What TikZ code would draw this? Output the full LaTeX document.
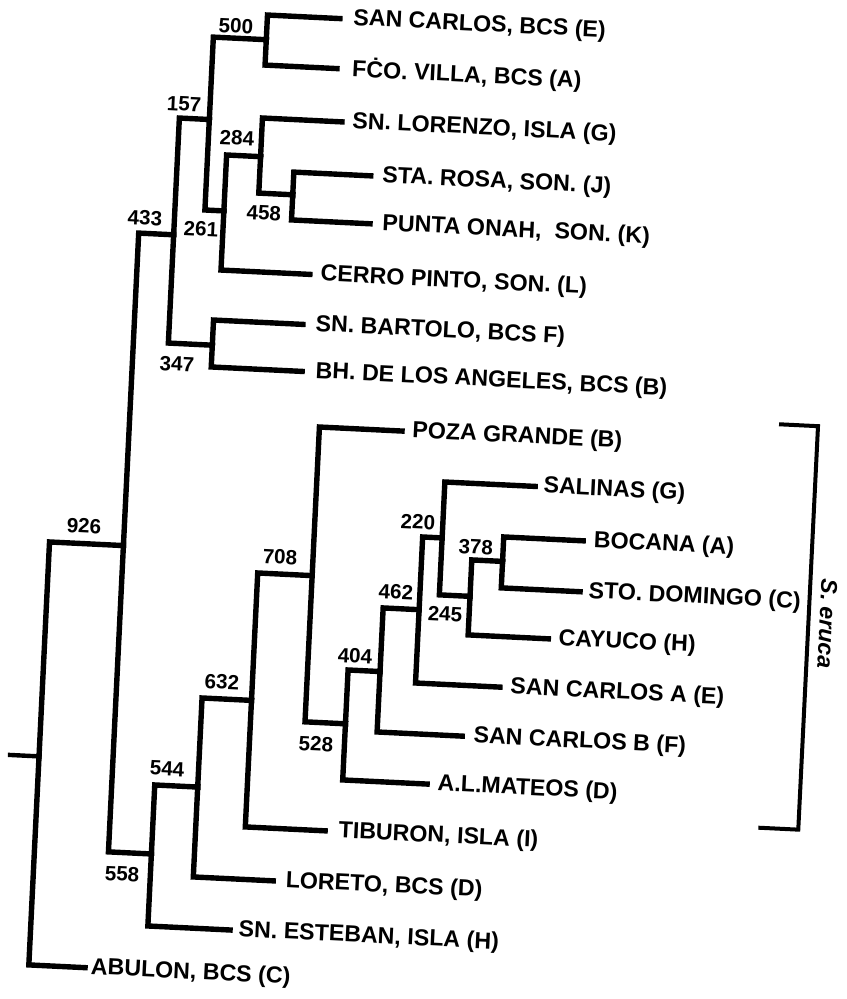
\documentclass[tikz,border=0pt]{standalone}
\usepackage{fontspec}
\setmainfont{Liberation Sans}
\begin{document}
\begin{tikzpicture}[x=0.5pt,y=-0.5pt,
  br/.style={line width=2.7pt, line cap=rect, line join=miter},
  leaf/.style={anchor=west, inner sep=0pt, font=\bfseries\fontsize{11.6}{13}\selectfont},
  num/.style={inner sep=0pt, font=\bfseries\fontsize{10.3}{12}\selectfont}]
\useasboundingbox (0,0) rectangle (846,999);
\fill[white] (0,0) rectangle (846,999);
\begin{scope}[rotate around={-2.8:(423,500)}, transform shape]
% internal nodes (vertical x, horizontal y)
\coordinate (stub) at (23,774.9);
\coordinate (root) at (52,774.9);
\coordinate (n926) at (126,560.2);
\coordinate (n433) at (161,247.3);
\coordinate (n157) at (191,130.4);
\coordinate (n500) at (244,47.9);
\coordinate (n261) at (210,221);
\coordinate (n284) at (244,165);
\coordinate (n458) at (278,201.5);
\coordinate (n347) at (205,355.7);
\coordinate (n558) at (169,866.9);
\coordinate (n544) at (212,797.8);
\coordinate (n632) at (261.5,708.6);
\coordinate (n708) at (316,581);
\coordinate (n528) at (356.5,727.4);
\coordinate (n404) at (388.5,673.5);
\coordinate (n462) at (424.5,609.8);
\coordinate (n220) at (444,537);
\coordinate (n245) at (474.7,594);
\coordinate (n378) at (505.5,557.5);
% leaf line ends
\coordinate (e1) at (316.5,23.2);
\coordinate (e2) at (316,73.3);
\coordinate (e3) at (323.6,126.3);
\coordinate (e4) at (355,178.8);
\coordinate (e5) at (356.6,226.7);
\coordinate (e6) at (299,280.2);
\coordinate (e7) at (294.5,330.5);
\coordinate (e8) at (296,377.5);
\coordinate (e9) at (398.7,432.2);
\coordinate (e10) at (534.4,481.0);
\coordinate (e11) at (585,533.0);
\coordinate (e12) at (584.4,584.0);
\coordinate (e13) at (555,632.6);
\coordinate (e14) at (509,683.2);
\coordinate (e15) at (473.7,734.0);
\coordinate (e16) at (441,783.6);
\coordinate (e17) at (341.4,835.3);
\coordinate (e18) at (292,887.8);
\coordinate (e19) at (251.3,939.0);
\coordinate (e20) at (108.3,983.7);
% leaf labels
\node[leaf] (l1) at (329.6,23.2) {SAN CARLOS, BCS (E)};
\node[leaf] (l2) at (331,73.3) {FĊO. VILLA, BCS (A)};
\node[leaf] (l3) at (333.7,126.3) {SN. LORENZO, ISLA (G)};
\node[leaf] (l4) at (366.3,178.8) {STA. ROSA, SON. (J)};
\node[leaf] (l5) at (368.7,226.7) {PUNTA ONAH,\ \ SON. (K)};
\node[leaf] (l6) at (309.5,280.2) {CERRO PINTO, SON. (L)};
\node[leaf] (l7) at (306.8,330.5) {SN. BARTOLO, BCS F)};
\node[leaf] (l8) at (309.2,377.5) {BH. DE LOS ANGELES, BCS (B)};
\node[leaf] (l9) at (408.7,432.2) {POZA GRANDE (B)};
\node[leaf] (l10) at (542.4,481.0) {SALINAS (G)};
\node[leaf] (l11) at (595.3,533.0) {BOCANA (A)};
\node[leaf] (l12) at (592.6,584.0) {STO. DOMINGO (C)};
\node[leaf] (l13) at (564.9,632.6) {CAYUCO (H)};
\node[leaf] (l14) at (519.2,683.2) {SAN CARLOS A (E)};
\node[leaf] (l15) at (484.7,734.0) {SAN CARLOS B (F)};
\node[leaf] (l16) at (451.2,783.6) {A.L.MATEOS (D)};
\node[leaf] (l17) at (354.6,835.3) {TIBURON, ISLA (I)};
\node[leaf] (l18) at (304.2,887.8) {LORETO, BCS (D)};
\node[leaf] (l19) at (259.6,939.0) {SN. ESTEBAN, ISLA (H)};
\node[leaf] (l20) at (113.7,983.7) {ABULON, BCS (C)};
% branches
\draw[br, line width=2.2pt] (stub) -- (root);
\draw[br] (root) |- (n926);
\draw[br] (root) |- (e20);
\draw[br] (n926) |- (n433);
\draw[br] (n926) |- (n558);
\draw[br] (n433) |- (n157);
\draw[br] (n433) |- (n347);
\draw[br] (n157) |- (n500);
\draw[br] (n157) |- (n261);
\draw[br] (n500) |- (e1);
\draw[br] (n500) |- (e2);
\draw[br] (n261) |- (n284);
\draw[br] (n261) |- (e6);
\draw[br] (n284) |- (e3);
\draw[br] (n284) |- (n458);
\draw[br] (n458) |- (e4);
\draw[br] (n458) |- (e5);
\draw[br] (n347) |- (e7);
\draw[br] (n347) |- (e8);
\draw[br] (n558) |- (n544);
\draw[br] (n558) |- (e19);
\draw[br] (n544) |- (n632);
\draw[br] (n544) |- (e18);
\draw[br] (n632) |- (n708);
\draw[br] (n632) |- (e17);
\draw[br] (n708) |- (e9);
\draw[br] (n708) |- (n528);
\draw[br] (n528) |- (n404);
\draw[br] (n528) |- (e16);
\draw[br] (n404) |- (n462);
\draw[br] (n404) |- (e15);
\draw[br] (n462) |- (n220);
\draw[br] (n462) |- (e14);
\draw[br] (n220) |- (e10);
\draw[br] (n220) |- (n245);
\draw[br] (n245) |- (n378);
\draw[br] (n245) |- (e13);
\draw[br] (n378) |- (e11);
\draw[br] (n378) |- (e12);
% node values
\node[num] (v500) at (213,35.7) {500};
\node[num] (v157) at (165,116.2) {157};
\node[num] (v284) at (219.5,147.5) {284};
\node[num] (v458) at (250,221) {458};
\node[num] (v433) at (131.5,232) {433};
\node[num] (v261) at (188,240) {261};
\node[num] (v347) at (170.6,376.3) {347};
\node[num] (v926) at (85.7,542.6) {926};
\node[num] (v708) at (283,564) {708};
\node[num] (v220) at (419,522) {220};
\node[num] (v378) at (478,544.3) {378};
\node[num] (v462) at (400.5,593.2) {462};
\node[num] (v245) at (450.6,612.8) {245};
\node[num] (v404) at (362.7,659) {404};
\node[num] (v528) at (328,749) {528};
\node[num] (v632) at (231,691.6) {632};
\node[num] (v544) at (180.5,781) {544};
\node[num] (v558) at (140.7,888.3) {558};
% bracket
\coordinate (b1) at (775,407);
\coordinate (b2) at (814,407);
\coordinate (b3) at (814,811);
\coordinate (b4) at (774,811);
\draw[line width=2pt, line join=miter] (b1) -- (b2) -- (b3) -- (b4);
\node[inner sep=0pt, rotate=-90, font=\bfseries\itshape\fontsize{11.5}{13}\selectfont] (sp) at (833,604) {S. eruca};
\end{scope}
\end{tikzpicture}
\end{document}
